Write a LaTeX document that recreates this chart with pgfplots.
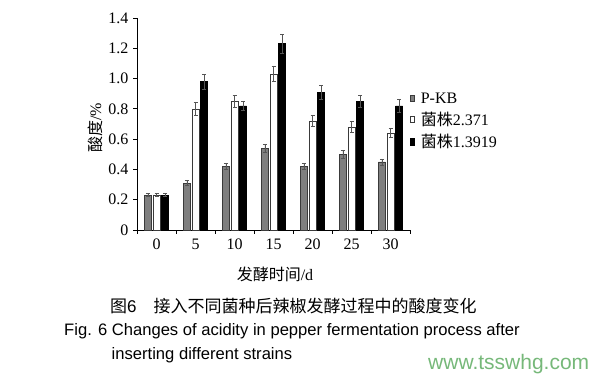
\documentclass[border=0pt]{standalone}
\usepackage{fontspec}
\setmainfont{Liberation Serif}
\setsansfont{Liberation Sans}
\newfontfamily\cjk{Noto Sans CJK SC}
\usepackage{pgfplots}
\usepackage{pgfplotstable}
\pgfplotsset{compat=1.18}
\definecolor{pkgray}{HTML}{7F7F7F}
\definecolor{edge}{HTML}{3A3A3A}
\definecolor{errc}{HTML}{555555}
\definecolor{wm}{HTML}{76B879}
\pgfplotstableread{
x  pk    epk   ws    ews   bk    ebk
0  0.23  0.01  0.23  0.01  0.23  0.01
1  0.31  0.015 0.80  0.04  0.98  0.05
2  0.42  0.02  0.85  0.04  0.82  0.03
3  0.54  0.025 1.03  0.05  1.23  0.06
4  0.42  0.02  0.72  0.035 0.91  0.045
5  0.50  0.025 0.68  0.035 0.85  0.04
6  0.45  0.02  0.64  0.03  0.82  0.04
}\datatable
\begin{document}
\begin{tikzpicture}
\useasboundingbox (0pt,0pt) rectangle (600pt,379pt);
\begin{axis}[
  at={(137pt,149pt)}, anchor=south west,
  scale only axis, width=273pt, height=212pt,
  xmin=-0.5, xmax=6.5, ymin=0, ymax=1.4,
  axis x line*=bottom, axis y line*=left,
  axis line style={black, line width=0.8pt},
  ytick={0,0.2,0.4,0.6,0.8,1.0,1.2,1.4},
  yticklabels={0,0.2,0.4,0.6,0.8,1.0,1.2,1.4},
  xtick={-0.5,0.5,1.5,2.5,3.5,4.5,5.5,6.5},
  x tick label as interval,
  xticklabels={0,5,10,15,20,25,30},
  tick align=outside, major tick length=4pt,
  tick style={black, line width=0.8pt},
  ticklabel style={font=\fontsize{16}{18}\selectfont},
  yticklabel style={xshift=-1pt},
  xticklabel style={yshift=-1pt},
  /pgf/number format/assume math mode=true,
  ybar=1.6pt, bar width=7pt,
  legend style={draw=none, fill=none, at={(axis description cs:1.0,0.514)}, anchor=west,
    font=\fontsize{16}{18}\selectfont, row sep=3.5pt, inner sep=0pt},
  legend cell align=left,
  legend image code/.code={\draw[#1, line width=0.6pt] (1pt,-3.2pt) rectangle (5pt,3.2pt); \path (9pt,0pt);},
  clip=false,
]
\addplot[fill=pkgray, draw=edge, line width=0.6pt,
  error bars/.cd, y dir=both, y explicit,
  error bar style={errc, line width=0.6pt},
  error mark options={rotate=90, mark size=2pt, errc, line width=0.6pt}]
  table[x=x, y=pk, y error=epk]{\datatable};
\addplot[fill=white, draw=edge, line width=0.6pt,
  error bars/.cd, y dir=both, y explicit,
  error bar style={errc, line width=0.6pt},
  error mark options={rotate=90, mark size=2pt, errc, line width=0.6pt}]
  table[x=x, y=ws, y error=ews]{\datatable};
\addplot[fill=black, draw=black, line width=0.6pt,
  error bars/.cd, y dir=both, y explicit,
  error bar style={errc, line width=0.6pt},
  error mark options={rotate=90, mark size=2pt, errc, line width=0.6pt}]
  table[x=x, y=bk, y error=ebk]{\datatable};
\legend{P-KB, {\cjk 菌株}2.371, {\cjk 菌株}1.3919}
\end{axis}
\node[rotate=90, font=\fontsize{16}{18}\selectfont] at (95pt,251pt) {{\cjk 酸度}/\%};
\node[font=\fontsize{16}{18}\selectfont] at (275pt,105pt) {{\cjk 发酵时间}/d};
\node[anchor=base west, font=\cjk\fontsize{17}{19}\selectfont, inner sep=0pt] at (110pt,66pt) {图{\sffamily 6}\hspace{1em}接入不同菌种后辣椒发酵过程中的酸度变化};
\node[anchor=base west, font=\sffamily\fontsize{16.6}{19}\selectfont, inner sep=0pt] at (64pt,43pt) {Fig. 6 Changes of acidity in pepper fermentation process after};
\node[anchor=base west, font=\sffamily\fontsize{16.6}{19}\selectfont, inner sep=0pt] at (111.5pt,19pt) {inserting different strains};
\node[anchor=base west, font=\sffamily\fontsize{21}{24}\selectfont, text=wm, inner sep=0pt] at (428pt,9pt) {www.tsswhg.com};
\end{tikzpicture}
\end{document}
